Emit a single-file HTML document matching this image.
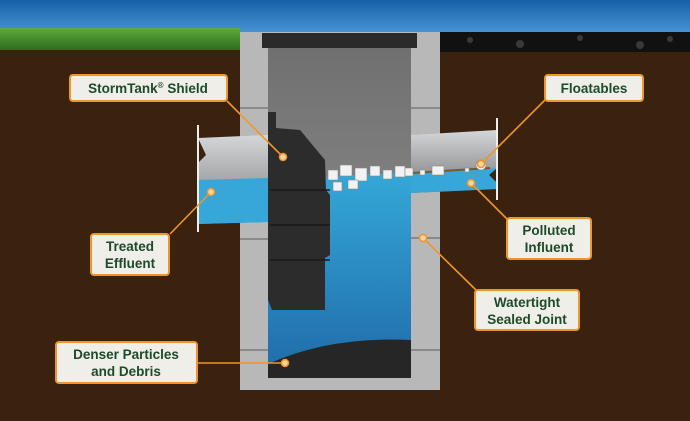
<!DOCTYPE html>
<html><head><meta charset="utf-8"><style>
html,body{margin:0;padding:0;width:690px;height:421px;overflow:hidden;background:#3a220e}
svg{display:block}
.lbl{font-family:"Liberation Sans",sans-serif;font-weight:bold;font-size:13.5px;fill:#1d4a2b;text-anchor:middle}
</style></head><body>
<svg width="690" height="421" viewBox="0 0 690 421">
<defs>
<linearGradient id="sky" x1="0" y1="0" x2="0" y2="1"><stop offset="0" stop-color="#1660a8"/><stop offset="1" stop-color="#4a95d6"/></linearGradient>
<linearGradient id="pipe" x1="0" y1="0" x2="0" y2="1"><stop offset="0" stop-color="#d5d6d8"/><stop offset="1" stop-color="#77797c"/></linearGradient>
<linearGradient id="wat" x1="0" y1="0" x2="0" y2="1"><stop offset="0" stop-color="#35a8d8"/><stop offset="1" stop-color="#1f6aa8"/></linearGradient>
<linearGradient id="inn" x1="0" y1="0" x2="0" y2="1"><stop offset="0" stop-color="#707070"/><stop offset="1" stop-color="#959595"/></linearGradient>
<linearGradient id="grass" x1="0" y1="0" x2="0" y2="1"><stop offset="0" stop-color="#5faa3c"/><stop offset="1" stop-color="#2e6b1d"/></linearGradient>
</defs>
<rect width="690" height="421" fill="#3a220e"/>
<rect width="690" height="34" fill="url(#sky)"/>
<rect x="0" y="28" width="240" height="22" fill="url(#grass)"/>
<rect x="440" y="32" width="250" height="20" fill="#111"/>
<g fill="#555" opacity="0.6"><circle cx="470" cy="40" r="3"/><circle cx="520" cy="44" r="4"/><circle cx="580" cy="38" r="3"/><circle cx="640" cy="45" r="4"/><circle cx="670" cy="39" r="3"/></g>
<rect x="240" y="32" width="200" height="358" fill="#b8b8b8"/>
<g stroke="#8a8a8a" stroke-width="2"><line x1="240" y1="108" x2="268" y2="108"/><line x1="411" y1="108" x2="440" y2="108"/><line x1="240" y1="239" x2="268" y2="239"/><line x1="411" y1="238" x2="440" y2="238"/><line x1="240" y1="350" x2="268" y2="350"/><line x1="411" y1="350" x2="440" y2="350"/></g>
<rect x="268" y="48" width="143" height="330" fill="url(#inn)"/>
<rect x="262" y="33" width="155" height="15" fill="#2a2a2a"/>
<path d="M268 180 L411 172 L411 378 L268 378Z" fill="url(#wat)"/>
<path d="M268 378 L268 364 Q330 336 411 340 L411 378Z" fill="#262626"/>
<path d="M198 138 L268 135 L268 222 L198 224 L198 163 L206 155 Z" fill="url(#pipe)"/>
<path d="M198 180 L268 178 L268 222 L198 224Z" fill="#36a7d8"/>
<line x1="198" y1="125" x2="198" y2="232" stroke="#eee" stroke-width="2"/>
<path d="M411 135 L497 130 L497 168 L489 175 L497 183 L497 189 L411 193Z" fill="url(#pipe)"/>
<path d="M411 173 L497 168 L489 175 L497 183 L497 189 L411 193Z" fill="#36a7d8"/>
<line x1="411" y1="173" x2="490" y2="168" stroke="#7a5a2a" stroke-width="2"/>
<line x1="497" y1="118" x2="497" y2="200" stroke="#eee" stroke-width="2"/>
<path d="M268 112 L276 112 L276 128 L300 130 L325 160 L326 190 L330 195 L330 255 L325 258 L325 310 L272 310 L268 300Z" fill="#2c2c2c"/>
<g stroke="#1a1a1a" stroke-width="1.5"><line x1="270" y1="190" x2="330" y2="190"/><line x1="270" y1="225" x2="330" y2="225"/><line x1="270" y1="260" x2="330" y2="260"/></g>
<g fill="#f2f2f2" stroke="#888" stroke-width="0.6">
<rect x="328" y="170" width="10" height="10"/><rect x="340" y="165" width="12" height="11"/><rect x="333" y="182" width="9" height="9"/><rect x="355" y="168" width="12" height="13"/><rect x="348" y="180" width="10" height="9"/><rect x="370" y="166" width="10" height="10"/><rect x="383" y="170" width="9" height="9"/><rect x="395" y="166" width="10" height="11"/><rect x="405" y="168" width="8" height="8"/><rect x="432" y="166" width="12" height="9"/><rect x="420" y="170" width="5" height="5"/><rect x="465" y="168" width="4" height="4"/><circle cx="481" cy="165" r="5"/></g>
<g stroke="#f0952a" stroke-width="1.6" fill="none">
<polyline points="227,101 283,157"/><polyline points="170,234 211,192"/><polyline points="197,363 285,363"/>
<polyline points="545,100 481,164"/><polyline points="507,219 471,183"/><polyline points="476,290 423,238"/>
</g>
<g fill="#f6d59a" stroke="#f0952a" stroke-width="1.5">
<circle cx="283" cy="157" r="3.5"/><circle cx="211" cy="192" r="3.5"/><circle cx="285" cy="363" r="3.5"/><circle cx="481" cy="164" r="3.5"/><circle cx="471" cy="183" r="3.5"/><circle cx="423" cy="238" r="3.5"/>
</g>
<g fill="#efeee8" stroke="#f0952a" stroke-width="2">
<rect x="70" y="75" width="157" height="26" rx="3"/>
<rect x="545" y="75" width="98" height="26" rx="3"/>
<rect x="91" y="234" width="78" height="41" rx="3"/>
<rect x="507" y="218" width="84" height="41" rx="3"/>
<rect x="475" y="290" width="104" height="40" rx="3"/>
<rect x="56" y="342" width="141" height="41" rx="3"/>
</g>
<text class="lbl" x="148" y="93">StormTank<tspan font-size="8" dy="-5">®</tspan><tspan dy="5"> Shield</tspan></text>
<text class="lbl" x="594" y="93">Floatables</text>
<text class="lbl" x="130" y="251">Treated</text><text class="lbl" x="130" y="268">Effluent</text>
<text class="lbl" x="549" y="235">Polluted</text><text class="lbl" x="549" y="252">Influent</text>
<text class="lbl" x="527" y="307">Watertight</text><text class="lbl" x="527" y="324">Sealed Joint</text>
<text class="lbl" x="126" y="359">Denser Particles</text><text class="lbl" x="126" y="376">and Debris</text>
</svg>
</body></html>
